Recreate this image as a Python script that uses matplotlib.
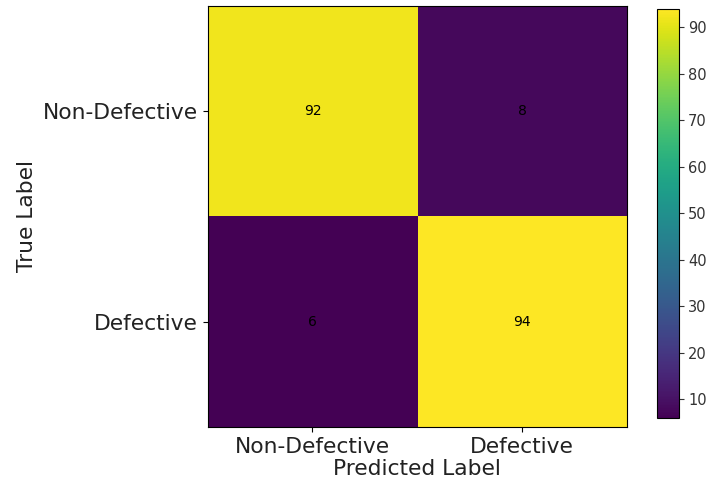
import numpy as np
import matplotlib
matplotlib.use("Agg")
import matplotlib.pyplot as plt

CLASS_NAMES = ["Non-Defective", "Defective"]
CONF_MATRIX = [
    [92, 8],
    [6, 94],
]


def main():
    cm = np.array(CONF_MATRIX)
    fig = plt.figure(figsize=(7.09, 4.93), dpi=100)
    ax = fig.add_axes([0.293, 0.134, 0.591, 0.854])
    cax = fig.add_axes([0.927, 0.152, 0.030, 0.830])

    im = ax.imshow(cm, cmap="viridis", aspect="auto")
    cbar = fig.colorbar(im, cax=cax)
    cbar.ax.tick_params(labelsize=10.5, colors="#333333")

    for i in range(cm.shape[0]):
        for j in range(cm.shape[1]):
            ax.text(j, i, str(cm[i, j]), ha="center", va="center",
                    color="black", fontsize=10)

    ax.set_xticks(range(len(CLASS_NAMES)))
    ax.set_yticks(range(len(CLASS_NAMES)))
    ax.set_xticklabels(CLASS_NAMES, fontsize=15.7, color="#222222")
    ax.set_yticklabels(CLASS_NAMES, fontsize=15.7, color="#222222")
    ax.set_xlabel("Predicted Label", fontsize=15.7, color="#222222", labelpad=2)
    ax.set_ylabel("True Label", fontsize=15.7, color="#222222")

    fig.savefig("out.png", dpi=100)
    plt.close(fig)


if __name__ == "__main__":
    main()
